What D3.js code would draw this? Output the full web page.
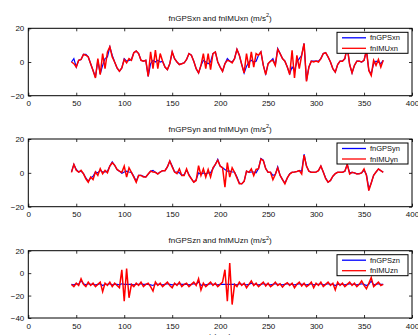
<!DOCTYPE html>
<html>
<head>
<meta charset="utf-8">
<script src="https://cdn.jsdelivr.net/npm/d3@7"></script>
<style>
  body { margin: 0; background: #fff; }
  svg { display: block; font-family: "Liberation Sans", Arial, sans-serif; }
</style>
</head>
<body>
<svg id="chart" width="418" height="335"></svg>
<script>
// sample times: 45 s .. 370 s every 2.5 s
var tStart = 45, tStep = 2.5;

var xTicks = [0, 50, 100, 150, 200, 250, 300, 350, 400];

var gpsXn = [
  0, 2, -3, 1, 1.5, 4.5, 4.5, 3, -1, -5,
  -9, 1, -7, -2, 2, 3, 9, 4, 0, -3.5,
  -5.5, -3.5, 2, 0.5, 1, 1.5, 5.5, 6.5, 5, 1,
  0.5, 1, -8.5, -1, 1, 0, 1, 0, 0.5, -3,
  -4.5, -1, 6, 2, 0, -1.5, -1, -0.5, 1.5, 5,
  4, 0.5, -4, -6.5, -2, 1, 0, -1, 0, 5,
  6, 0, -3, -5.5, -1, 2, 0.5, 0, 2, 7.5,
  4, -1.5, -6.5, -2.5, 0, 1, 0, 0.5, 4, 6,
  -2, -7, -1, 0.5, 2, -2, 8, 5, 2, 0.5,
  -3, -7, -3, -5, 0, 2, 4, 11, -11, -3,
  0.5, 0.5, 0.5, 0.5, 2, 5, 5.5, 3, 0, -4,
  -6, -1.5, 0.5, 0.5, 2, 9, -1.5, -6.5, -2, 0.5,
  0.5, 0, 1, 7, -5, -7, -1, 0.5, 0, -1,
  1
];
var imuXn = [
  0, -1, -3, 1, 1.5, 4.5, 4, 3, -1, -5,
  -9.5, 2, -7.5, 5, -4, 6, 9, 3, 0, -3.5,
  -5.5, -3.5, 1.5, -0.5, 2, 1, 5.5, 6.5, 5, 1,
  0.5, 1, -8.5, 6, -4, 7, -4, 5, 0.5, -3,
  -4.5, -1, 6, 2, 0, -1.5, -1, -0.5, 1.5, 5,
  4, 0.5, -4, -6.5, -2, 5, -4, 5, -4.5, 5,
  6, 0, -3, -5.5, -1, 1, 0.5, -0.5, 2, 7.5,
  4, -1.5, -6.5, 5, -3.5, 6, -3, 5, 4, 6,
  -2, -7.5, -1, 0.5, 1, -2, 7.5, 5, 2, 0.5,
  -3, -7.5, 7, -9.5, 4, -4, 4, 11, -11.5, -3,
  0.5, 0, 0.5, 0, 2, 5, 5.5, 3, 0, -4,
  -6, -1.5, 0.5, 0.5, 2, 9, -1.5, -6.5, -2, 0.5,
  0.5, 0, 1, 7, -5, -8, 1, -2, 1.5, -3,
  1
];

var gpsYn = [
  0.5, 5, 2, 0.5, 1, -0.5, -3, -5, -3, -2,
  0.5, 0, 1.5, 0.5, 0.5, 1, 4, 6.5, 4.5, 2,
  1, -0.3, 0.5, 1, 0.5, 0.3, -2, -5, -1.5, -1.5,
  -2, -2.5, -0.7, 1, 1.5, 0.3, -0.5, 0.5, 1.3, 1.3,
  3.5, 7, 4, 0.5, 0.5, 0, -1.5, -1, 1.5, -1,
  -3.5, -5.5, -4, 0, -1, 0, -0.5, 0, 0, 2.5,
  5, 8, 4, 3, 2, 1, 1, 0.5, 0.5, -2.5,
  -6, -6.5, -5, 1, 0.3, 0.5, 0.5, 0, 2.5, 8.5,
  7.5, 2.5, 0.3, 0.3, -1.5, -1, 3.5, -1.5, -4, -6,
  -3, -0.5, 0.3, 0.5, 0.8, 1.3, 1, 11, 4, 1,
  0.3, 0.3, 0.5, 1.3, 4, 0.5, -3, -5.5, -4.5, -2,
  -0.5, 0.3, 0.3, 0.3, 1, 5, 0, 0.3, 0, -0.5,
  -0.5, 0, 1.5, -1, -9.5, -6, -1.5, 0.5, 2.3, 1.3,
  0.5
];
var imuYn = [
  0.3, 5, 1.5, 0.5, 1.5, -0.5, -3.5, -5.5, -2.5, -4,
  0.5, -1.5, 2.5, -0.5, 1.5, 0, 4, 6, 4.5, 2,
  1, 0.3, 4, -2.5, 3, 0.3, -2.5, -5.5, -1.5, -1.5,
  -2.5, -2.5, -0.7, 1, 0.5, 0.3, -0.7, 0.5, 1.3, 1.3,
  3.5, 7, 3.5, 0.5, -0.5, 2.3, -1.5, -1.5, 2.3, -1.5,
  -3.5, -5.5, -4.5, 4.3, -1.5, 2.3, -2.5, 2, -2.5, 3,
  5, 7.5, 4, 3, -8.5, 6, -2.5, 3, 0.3, -3,
  -6.5, -6.5, -5, 1, 0.3, 2.3, -1.6, 2, 2.5, 8.2,
  7.2, 2.5, 0.3, 0.3, -4, -1, 3, -1.5, -4, -6.5,
  -3, -0.7, 0.3, 0.5, 0.8, 1.3, -0.7, 10.5, 4, 1,
  0.3, 0.3, 0.5, 1.3, 4, 0.5, -3.5, -5.5, -4.5, -2,
  -0.5, 0.3, 0.3, 0.3, 1, 5, -0.7, 0.3, 0, -0.7,
  -0.5, 0, 2.3, -1.5, -10.5, -6, -1.5, 0.5, 2.3, 1.3,
  0.3
];

var gpsZn = [
  -10, -10.5, -9.5, -10, -6.5, -9.5, -10.5, -9.5, -10, -10,
  -10.5, -10, -9.5, -11, -10, -10, -9.5, -10.5, -10, -10,
  -10.5, -9.5, -10, -10, -10, -10, -10.5, -10, -10, -9.5,
  -10, -10, -10, -10.5, -11, -9.5, -10, -10, -10.5, -10,
  -9.5, -10, -10.5, -10, -10, -9.5, -10, -10, -10, -10.5,
  -10, -9.5, -10, -7.5, -11, -10, -10.5, -10, -9.5, -10,
  -10, -10.5, -10, -10, -10, -10, -10, -10, -10, -10.5,
  -9.5, -10, -10, -10.5, -10, -9, -10, -10, -10.5, -10,
  -9.5, -10, -10, -10.5, -10, -9.5, -10, -10, -10.5, -10,
  -9.5, -10, -10, -10.5, -10, -9.5, -10, -10, -10.5, -10,
  -9.5, -10.5, -10, -10, -9.5, -10.5, -10, -9.5, -10, -10,
  -11, -10, -10, -10, -10.5, -10, -9.5, -10, -10, -10.5,
  -10, -9.5, -10, -11, -10, -7, -10.5, -10, -9.5, -10,
  -10
];
var imuZn = [
  -10, -12, -9, -11, -5, -10, -12, -8, -11, -9,
  -12, -10, -8, -16.5, -9, -11, -8, -12, -9, -11,
  -13, 3, -25, 4, -22, -10, -12, -9, -11, -8,
  -12, -10, -9, -12, -16, -8, -11, -9, -12, -10,
  -8, -11, -13, -9, -11, -8, -12, -10, -9, -12,
  -10, -8, -11, -5, -15, -9, -12, -10, -8, -11,
  -9, -12, -10, -8, 3, -25, 9, -28, -10, -12,
  -8, -11, -9, -13, -10, -7, -11, -9, -12, -10,
  -8, -11.5, -9, -12, -10.5, -8, -11, -9.5, -12.5, -10,
  -8.5, -11, -9, -13, -10, -8, -11.5, -9, -12, -10.5,
  -8, -13, -9, -11, -8, -12, -10, -8, -11, -9,
  -15, -8, -11, -9, -12, -10, -8, -11, -9, -12,
  -10, -7, -11, -14, -9, -4, -12, -10, -8, -11,
  -10
];

var panels = [
  { axis: "x", gps: gpsXn, imu: imuXn, yDomain: [-20, 20], yTicks: [-20, 0, 20], top: 28.3, bottom: 95.7 },
  { axis: "y", gps: gpsYn, imu: imuYn, yDomain: [-20, 20], yTicks: [-20, 0, 20], top: 139, bottom: 206.7 },
  { axis: "z", gps: gpsZn, imu: imuZn, yDomain: [-40, 20], yTicks: [-40, -20, 0, 20], top: 250.7, bottom: 318 }
];

var svg = d3.select("#chart");
var left = 28.3, right = 412;

var x = d3.scaleLinear().domain([0, 400]).range([left, right]);

function tOf(i) {
  return tStart + i * tStep;
}

panels.forEach(function (p, pi) {
  var y = d3.scaleLinear().domain(p.yDomain).range([p.bottom, p.top]);
  var g = svg.append("g");

  // title
  var title = g.append("text")
    .attr("x", (left + right) / 2)
    .attr("y", p.top - 7.5)
    .attr("text-anchor", "middle")
    .attr("font-size", 8)
    .attr("fill", "#111");
  title.append("tspan").text("fnGPS" + p.axis + "n and fnIMU" + p.axis + "n (m/s");
  title.append("tspan").attr("dy", -3.5).attr("font-size", 5.5).text("2");
  title.append("tspan").attr("dy", 3.5).text(")");

  // data
  g.append("clipPath")
    .attr("id", "clip" + pi)
    .append("rect")
    .attr("x", left).attr("y", p.top)
    .attr("width", right - left).attr("height", p.bottom - p.top);

  var line = d3.line()
    .x(function (d, i) { return x(tOf(i)); })
    .y(function (d) { return y(d); });

  var plot = g.append("g").attr("clip-path", "url(#clip" + pi + ")");
  plot.append("path")
    .datum(p.gps)
    .attr("d", line)
    .attr("fill", "none")
    .attr("stroke", "#0000ff")
    .attr("stroke-width", 1.2);
  plot.append("path")
    .datum(p.imu)
    .attr("d", line)
    .attr("fill", "none")
    .attr("stroke", "#ff0000")
    .attr("stroke-width", 1.5);

  // axes with inward ticks on all four sides
  g.append("g")
    .attr("transform", "translate(0," + p.bottom + ")")
    .call(d3.axisBottom(x).tickValues(xTicks).tickSizeInner(-3).tickSizeOuter(0).tickPadding(5));
  g.append("g")
    .attr("transform", "translate(0," + p.top + ")")
    .call(d3.axisTop(x).tickValues(xTicks).tickSizeInner(-3).tickSizeOuter(0).tickFormat(""));
  g.append("g")
    .attr("transform", "translate(" + left + ",0)")
    .call(d3.axisLeft(y).tickValues(p.yTicks).tickSizeInner(-3).tickSizeOuter(0).tickPadding(4));
  g.append("g")
    .attr("transform", "translate(" + right + ",0)")
    .call(d3.axisRight(y).tickValues(p.yTicks).tickSizeInner(-3).tickSizeOuter(0).tickFormat(""));

  g.selectAll(".domain").remove();
  g.selectAll(".tick line").attr("stroke", "#000").attr("stroke-width", 0.8);
  g.selectAll(".tick text").attr("font-size", 8).attr("fill", "#111")
    .attr("font-family", "Liberation Sans, Arial, sans-serif");

  g.append("rect")
    .attr("x", left).attr("y", p.top)
    .attr("width", right - left).attr("height", p.bottom - p.top)
    .attr("fill", "none")
    .attr("stroke", "#000")
    .attr("stroke-width", 1);

  // legend
  var lg = g.append("g").attr("transform", "translate(337," + (p.top + 4) + ")");
  lg.append("rect")
    .attr("width", 71).attr("height", 21)
    .attr("fill", "#fff")
    .attr("stroke", "#000")
    .attr("stroke-width", 1);
  var entries = [
    { label: "fnGPS" + p.axis + "n", color: "#0000ff" },
    { label: "fnIMU" + p.axis + "n", color: "#ff0000" }
  ];
  entries.forEach(function (e, i) {
    var yy = 5.5 + i * 10.5;
    lg.append("line")
      .attr("x1", 5).attr("x2", 29)
      .attr("y1", yy).attr("y2", yy)
      .attr("stroke", e.color)
      .attr("stroke-width", 1.3);
    lg.append("text")
      .attr("x", 33).attr("y", yy + 2.7)
      .attr("font-size", 7.5)
      .attr("fill", "#111")
      .text(e.label);
  });
});

svg.append("text")
  .attr("x", (left + right) / 2)
  .attr("y", 339)
  .attr("text-anchor", "middle")
  .attr("font-size", 8)
  .attr("fill", "#111")
  .text("t (sec)");
</script>
</body>
</html>
